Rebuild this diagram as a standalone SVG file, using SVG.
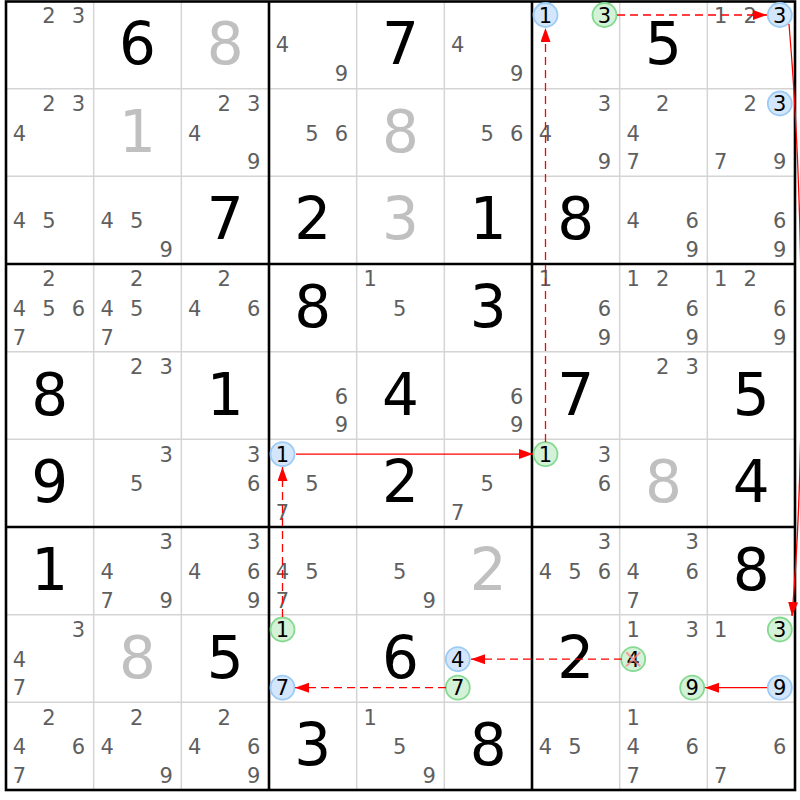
<svg xmlns="http://www.w3.org/2000/svg" width="800" height="800" viewBox="0 0 800 800">
<defs>
<style>
.c{font-family:"DejaVu Sans","Verdana",sans-serif;font-size:21px;fill:#5f5f5f;text-anchor:middle}
.ck{font-family:"DejaVu Sans","Verdana",sans-serif;font-size:21px;fill:#000;text-anchor:middle}
.g{font-family:"DejaVu Sans","Verdana",sans-serif;font-size:58px;fill:#000;text-anchor:middle}
.s{font-family:"DejaVu Sans","Verdana",sans-serif;font-size:58px;fill:#c0c0c0;text-anchor:middle}
.thin{stroke:#d4d4d4;stroke-width:1.5}
.thick{stroke:#000;stroke-width:2.6}
.cb{fill:#d3e6fb;stroke:#9ccbf5;stroke-width:1.8}
.cg{fill:#d3f2d8;stroke:#86d991;stroke-width:1.8}
.ln{stroke:#ff0000;stroke-width:1.3;fill:none;marker-end:url(#ah)}
.d{stroke-dasharray:8,5}
</style>
<marker id="ah" markerUnits="userSpaceOnUse" markerWidth="16" markerHeight="12" refX="14" refY="5" orient="auto">
<path d="M0,0 L14,5 L0,10 z" fill="#ff0000"/>
</marker>
</defs>
<rect x="0" y="0" width="800" height="800" fill="#fff"/>
<g id="grid">
<g class="thin">
<line x1="93.67" y1="1" x2="93.67" y2="790"/><line x1="181.33" y1="1" x2="181.33" y2="790"/>
<line x1="356.67" y1="1" x2="356.67" y2="790"/><line x1="444.33" y1="1" x2="444.33" y2="790"/>
<line x1="619.67" y1="1" x2="619.67" y2="790"/><line x1="707.33" y1="1" x2="707.33" y2="790"/>
<line x1="6" y1="88.67" x2="795" y2="88.67"/><line x1="6" y1="176.33" x2="795" y2="176.33"/>
<line x1="6" y1="351.67" x2="795" y2="351.67"/><line x1="6" y1="439.33" x2="795" y2="439.33"/>
<line x1="6" y1="614.67" x2="795" y2="614.67"/><line x1="6" y1="702.33" x2="795" y2="702.33"/>
</g>
<g class="thick">
<line x1="269" y1="1" x2="269" y2="790"/><line x1="532" y1="1" x2="532" y2="790"/>
<line x1="6" y1="264" x2="795" y2="264"/><line x1="6" y1="527" x2="795" y2="527"/>
<rect x="6" y="1.5" width="789" height="788.5" fill="none"/>
</g>
</g>
<!-- Row 1 -->
<g id="r1c1"><text class="c" x="49" y="22.5">2</text><text class="c" x="78.5" y="22.5">3</text></g>
<g id="r1c2"><text class="g" x="137.5" y="64">6</text></g>
<g id="r1c3"><text class="s" x="225.2" y="64">8</text></g>
<g id="r1c4"><text class="c" x="282.5" y="52">4</text><text class="c" x="341.5" y="80.5">9</text></g>
<g id="r1c5"><text class="g" x="400.5" y="64">7</text></g>
<g id="r1c6"><text class="c" x="457.8" y="52">4</text><text class="c" x="516.8" y="80.5">9</text></g>
<g id="r1c7"><circle class="cb" cx="545.5" cy="15" r="12"/><text class="ck" x="545.5" y="22.5">1</text><circle class="cg" cx="604.5" cy="15" r="12"/><text class="ck" x="604.5" y="22.5">3</text></g>
<g id="r1c8"><text class="g" x="663.5" y="64">5</text></g>
<g id="r1c9"><text class="c" x="720.8" y="22.5">1</text><text class="c" x="750.3" y="22.5">2</text><circle class="cb" cx="779.8" cy="15" r="12"/><text class="ck" x="779.8" y="22.5">3</text></g>
<!-- Row 2 -->
<g id="r2c1"><text class="c" x="49" y="111">2</text><text class="c" x="78.5" y="111">3</text><text class="c" x="19.5" y="140.7">4</text></g>
<g id="r2c2"><text class="s" x="137.5" y="151.7">1</text></g>
<g id="r2c3"><text class="c" x="224.3" y="111">2</text><text class="c" x="253.8" y="111">3</text><text class="c" x="194.8" y="140.7">4</text><text class="c" x="253.8" y="169.2">9</text></g>
<g id="r2c4"><text class="c" x="312" y="140.7">5</text><text class="c" x="341.5" y="140.7">6</text></g>
<g id="r2c5"><text class="s" x="400.5" y="151.7">8</text></g>
<g id="r2c6"><text class="c" x="487.3" y="140.7">5</text><text class="c" x="516.8" y="140.7">6</text></g>
<g id="r2c7"><text class="c" x="604.5" y="111">3</text><text class="c" x="545.5" y="140.7">4</text><text class="c" x="604.5" y="169.2">9</text></g>
<g id="r2c8"><text class="c" x="662.7" y="111">2</text><text class="c" x="633.2" y="140.7">4</text><text class="c" x="633.2" y="169.2">7</text></g>
<g id="r2c9"><text class="c" x="750.3" y="111">2</text><circle class="cb" cx="779.8" cy="103.5" r="12"/><text class="ck" x="779.8" y="111">3</text><text class="c" x="720.8" y="169.2">7</text><text class="c" x="779.8" y="169.2">9</text></g>
<!-- Row 3 -->
<g id="r3c1"><text class="c" x="19.5" y="228.3">4</text><text class="c" x="49" y="228.3">5</text></g>
<g id="r3c2"><text class="c" x="107.2" y="228.3">4</text><text class="c" x="136.7" y="228.3">5</text><text class="c" x="166.2" y="256.8">9</text></g>
<g id="r3c3"><text class="g" x="225.2" y="239.3">7</text></g>
<g id="r3c4"><text class="g" x="312.8" y="239.3">2</text></g>
<g id="r3c5"><text class="s" x="400.5" y="239.3">3</text></g>
<g id="r3c6"><text class="g" x="488.2" y="239.3">1</text></g>
<g id="r3c7"><text class="g" x="575.8" y="239.3">8</text></g>
<g id="r3c8"><text class="c" x="633.2" y="228.3">4</text><text class="c" x="692.2" y="228.3">6</text><text class="c" x="692.2" y="256.8">9</text></g>
<g id="r3c9"><text class="c" x="779.8" y="228.3">6</text><text class="c" x="779.8" y="256.8">9</text></g>
<!-- Row 4 -->
<g id="r4c1"><text class="c" x="49" y="286.3">2</text><text class="c" x="19.5" y="316">4</text><text class="c" x="49" y="316">5</text><text class="c" x="78.5" y="316">6</text><text class="c" x="19.5" y="344.5">7</text></g>
<g id="r4c2"><text class="c" x="136.7" y="286.3">2</text><text class="c" x="107.2" y="316">4</text><text class="c" x="136.7" y="316">5</text><text class="c" x="107.2" y="344.5">7</text></g>
<g id="r4c3"><text class="c" x="224.3" y="286.3">2</text><text class="c" x="194.8" y="316">4</text><text class="c" x="253.8" y="316">6</text></g>
<g id="r4c4"><text class="g" x="312.8" y="327">8</text></g>
<g id="r4c5"><text class="c" x="370.2" y="286.3">1</text><text class="c" x="399.7" y="316">5</text></g>
<g id="r4c6"><text class="g" x="488.2" y="327">3</text></g>
<g id="r4c7"><text class="c" x="545.5" y="286.3">1</text><text class="c" x="604.5" y="316">6</text><text class="c" x="604.5" y="344.5">9</text></g>
<g id="r4c8"><text class="c" x="633.2" y="286.3">1</text><text class="c" x="662.7" y="286.3">2</text><text class="c" x="692.2" y="316">6</text><text class="c" x="692.2" y="344.5">9</text></g>
<g id="r4c9"><text class="c" x="720.8" y="286.3">1</text><text class="c" x="750.3" y="286.3">2</text><text class="c" x="779.8" y="316">6</text><text class="c" x="779.8" y="344.5">9</text></g>
<!-- Row 5 -->
<g id="r5c1"><text class="g" x="49.8" y="414.7">8</text></g>
<g id="r5c2"><text class="c" x="136.7" y="374">2</text><text class="c" x="166.2" y="374">3</text></g>
<g id="r5c3"><text class="g" x="225.2" y="414.7">1</text></g>
<g id="r5c4"><text class="c" x="341.5" y="403.7">6</text><text class="c" x="341.5" y="432.2">9</text></g>
<g id="r5c5"><text class="g" x="400.5" y="414.7">4</text></g>
<g id="r5c6"><text class="c" x="516.8" y="403.7">6</text><text class="c" x="516.8" y="432.2">9</text></g>
<g id="r5c7"><text class="g" x="575.8" y="414.7">7</text></g>
<g id="r5c8"><text class="c" x="662.7" y="374">2</text><text class="c" x="692.2" y="374">3</text></g>
<g id="r5c9"><text class="g" x="751.2" y="414.7">5</text></g>
<!-- Row 6 -->
<g id="r6c1"><text class="g" x="49.8" y="502.3">9</text></g>
<g id="r6c2"><text class="c" x="166.2" y="461.6">3</text><text class="c" x="136.7" y="491.3">5</text></g>
<g id="r6c3"><text class="c" x="253.8" y="461.6">3</text><text class="c" x="253.8" y="491.3">6</text></g>
<g id="r6c4"><circle class="cb" cx="282.5" cy="454.1" r="12"/><text class="ck" x="282.5" y="461.6">1</text><text class="c" x="312" y="491.3">5</text><text class="c" x="282.5" y="519.8">7</text></g>
<g id="r6c5"><text class="g" x="400.5" y="502.3">2</text></g>
<g id="r6c6"><text class="c" x="487.3" y="491.3">5</text><text class="c" x="457.8" y="519.8">7</text></g>
<g id="r6c7"><circle class="cg" cx="545.5" cy="454.1" r="12"/><text class="ck" x="545.5" y="461.6">1</text><text class="c" x="604.5" y="461.6">3</text><text class="c" x="604.5" y="491.3">6</text></g>
<g id="r6c8"><text class="s" x="663.5" y="502.3">8</text></g>
<g id="r6c9"><text class="g" x="751.2" y="502.3">4</text></g>
<!-- Row 7 -->
<g id="r7c1"><text class="g" x="49.8" y="590">1</text></g>
<g id="r7c2"><text class="c" x="166.2" y="549.3">3</text><text class="c" x="107.2" y="579">4</text><text class="c" x="107.2" y="607.5">7</text><text class="c" x="166.2" y="607.5">9</text></g>
<g id="r7c3"><text class="c" x="253.8" y="549.3">3</text><text class="c" x="194.8" y="579">4</text><text class="c" x="253.8" y="579">6</text><text class="c" x="253.8" y="607.5">9</text></g>
<g id="r7c4"><text class="c" x="282.5" y="579">4</text><text class="c" x="312" y="579">5</text><text class="c" x="282.5" y="607.5">7</text></g>
<g id="r7c5"><text class="c" x="399.7" y="579">5</text><text class="c" x="429.2" y="607.5">9</text></g>
<g id="r7c6"><text class="s" x="488.2" y="590">2</text></g>
<g id="r7c7"><text class="c" x="604.5" y="549.3">3</text><text class="c" x="545.5" y="579">4</text><text class="c" x="575" y="579">5</text><text class="c" x="604.5" y="579">6</text></g>
<g id="r7c8"><text class="c" x="692.2" y="549.3">3</text><text class="c" x="633.2" y="579">4</text><text class="c" x="692.2" y="579">6</text><text class="c" x="633.2" y="607.5">7</text></g>
<g id="r7c9"><text class="g" x="751.2" y="590">8</text></g>
<!-- Row 8 -->
<g id="r8c1"><text class="c" x="78.5" y="637">3</text><text class="c" x="19.5" y="666.7">4</text><text class="c" x="19.5" y="695.2">7</text></g>
<g id="r8c2"><text class="s" x="137.5" y="677.7">8</text></g>
<g id="r8c3"><text class="g" x="225.2" y="677.7">5</text></g>
<g id="r8c4"><circle class="cg" cx="282.5" cy="629.5" r="12"/><text class="ck" x="282.5" y="637">1</text><circle class="cb" cx="282.5" cy="687.7" r="12"/><text class="ck" x="282.5" y="695.2">7</text></g>
<g id="r8c5"><text class="g" x="400.5" y="677.7">6</text></g>
<g id="r8c6"><circle class="cb" cx="457.8" cy="659.2" r="12"/><text class="ck" x="457.8" y="666.7">4</text><circle class="cg" cx="457.8" cy="687.7" r="12"/><text class="ck" x="457.8" y="695.2">7</text></g>
<g id="r8c7"><text class="g" x="575.8" y="677.7">2</text></g>
<g id="r8c8"><text class="c" x="633.2" y="637">1</text><text class="c" x="692.2" y="637">3</text><circle class="cg" cx="633.2" cy="659.2" r="12"/><text class="ck" x="633.2" y="666.7">4</text><path d="M626.2,652.2 L640.2,666.2 M640.2,652.2 L626.2,666.2" stroke="#ff8080" stroke-opacity="0.7" stroke-width="2.2"/><circle class="cg" cx="692.2" cy="687.7" r="12"/><text class="ck" x="692.2" y="695.2">9</text></g>
<g id="r8c9"><text class="c" x="720.8" y="637">1</text><circle class="cg" cx="779.8" cy="629.5" r="12"/><text class="ck" x="779.8" y="637">3</text><circle class="cb" cx="779.8" cy="687.7" r="12"/><text class="ck" x="779.8" y="695.2">9</text></g>
<!-- Row 9 -->
<g id="r9c1"><text class="c" x="49" y="724.6">2</text><text class="c" x="19.5" y="754.3">4</text><text class="c" x="78.5" y="754.3">6</text><text class="c" x="19.5" y="782.8">7</text></g>
<g id="r9c2"><text class="c" x="136.7" y="724.6">2</text><text class="c" x="107.2" y="754.3">4</text><text class="c" x="166.2" y="782.8">9</text></g>
<g id="r9c3"><text class="c" x="224.3" y="724.6">2</text><text class="c" x="194.8" y="754.3">4</text><text class="c" x="253.8" y="754.3">6</text><text class="c" x="253.8" y="782.8">9</text></g>
<g id="r9c4"><text class="g" x="312.8" y="765.3">3</text></g>
<g id="r9c5"><text class="c" x="370.2" y="724.6">1</text><text class="c" x="399.7" y="754.3">5</text><text class="c" x="429.2" y="782.8">9</text></g>
<g id="r9c6"><text class="g" x="488.2" y="765.3">8</text></g>
<g id="r9c7"><text class="c" x="545.5" y="754.3">4</text><text class="c" x="575" y="754.3">5</text></g>
<g id="r9c8"><text class="c" x="633.2" y="724.6">1</text><text class="c" x="633.2" y="754.3">4</text><text class="c" x="692.2" y="754.3">6</text><text class="c" x="633.2" y="782.8">7</text></g>
<g id="r9c9"><text class="c" x="779.8" y="754.3">6</text><text class="c" x="720.8" y="782.8">7</text></g>
<!-- Connectors -->
<g id="connectors">
<path class="ln d" d="M282.5,617 L282.5,467"/>
<path class="ln" d="M296,454.1 L533,454.1"/>
<path class="ln d" d="M545.5,442 L545.5,28"/>
<path class="ln d" d="M617,15 L767,15"/>
<path class="ln" d="M789,24 C804,200 806,450 792,616"/>
<path class="ln d" d="M622,659.2 L471,659.2"/>
<path class="ln" d="M767,687.7 L705,687.7"/>
<path class="ln d" d="M446,687.7 L295,687.7"/>
</g>
</svg>
